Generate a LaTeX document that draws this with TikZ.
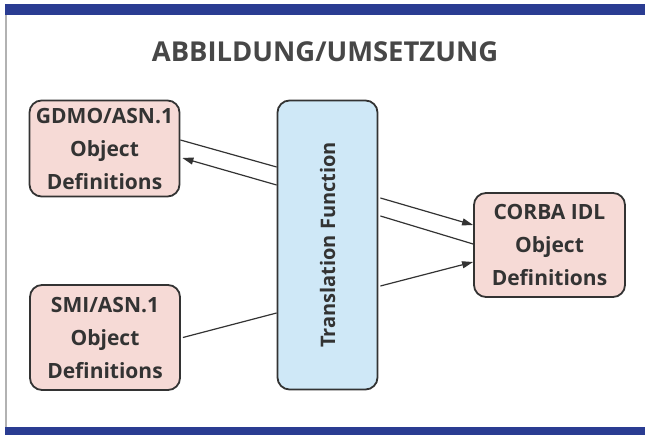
\documentclass[tikz,border=0pt]{standalone}
\usepackage{fontspec}
\setmainfont{Open Sans}
\usetikzlibrary{arrows.meta,calc}
\definecolor{barblue}{HTML}{2A3C92}
\definecolor{boxpink}{HTML}{F6DAD6}
\definecolor{boxblue}{HTML}{CFE8F7}
\definecolor{ink}{HTML}{333333}
\begin{document}
\begin{tikzpicture}[x=1pt,y=-1pt,
  objbox/.style={draw=ink, line width=1.8pt, rounded corners=12pt, fill=boxpink,
    minimum width=150pt, minimum height=96pt, inner sep=0pt, align=center,
    font=\bfseries\fontsize{21}{33}\selectfont, text=ink},
  transbox/.style={draw=ink, line width=1.8pt, rounded corners=12pt, fill=boxblue,
    minimum width=100pt, minimum height=289pt, inner sep=0pt},
  conn/.style={draw=ink, line width=1.2pt},
  arr/.style={conn, -{Triangle[length=11pt,width=7pt]}}]
\useasboundingbox (0,0) rectangle (645,435);
\fill[white] (0,0) rectangle (645,435);
\fill[barblue] (5,4) rectangle (645,15);
\fill[barblue] (5,427) rectangle (645,435);
\fill[gray!60] (5,15) rectangle (6.5,427);
\node[font=\bfseries\fontsize{27.4}{30}\selectfont, text=ink!90] (title) at (325,52) {ABBILDUNG/UMSETZUNG};
\node[objbox] (gdmo) at (104.5,148.5) {GDMO/ASN.1\\Object\\Definitions};
\node[objbox, minimum height=105pt] (smi) at (105,337.5) {SMI/ASN.1\\Object\\Definitions};
\node[objbox, minimum width=151pt, minimum height=104pt] (corba) at (549.5,245) {CORBA IDL\\Object\\Definitions};
\node[transbox] (trans) at (327.5,245) {};
\node[rotate=90, font=\bfseries\fontsize{20}{22}\selectfont, text=ink] (tlabel) at (trans.center) {Translation Function};
\draw[conn] ([yshift=8.5pt]gdmo.east) -- ([yshift=78pt]trans.west);
\draw[arr] ([yshift=60pt]trans.west) -- ([shift={(2pt,-9.5pt)}]gdmo.east);
\draw[arr] ([shift={(2pt,47pt)}]trans.east) -- ([yshift=20pt]corba.west);
\draw[conn] ([shift={(2pt,29pt)}]trans.east) -- ([yshift=1pt]corba.west);
\draw[arr] ([shift={(2pt,-41pt)}]trans.east) -- ([yshift=-17pt]corba.west);
\draw[conn] ([xshift=2pt]smi.east) -- ([yshift=-68pt]trans.west);
\end{tikzpicture}
\end{document}
